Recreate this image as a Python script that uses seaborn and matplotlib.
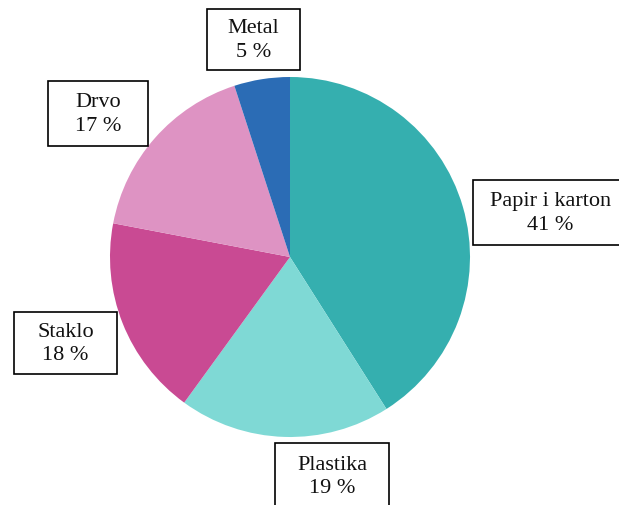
import matplotlib
matplotlib.use("Agg")
import matplotlib.pyplot as plt
from matplotlib.patches import Rectangle
import seaborn as sns

labels = ["Papir i karton", "Plastika", "Staklo", "Drvo", "Metal"]
shares = [41, 19, 18, 17, 5]
pct_text = ["41 %", "19 %", "18 %", "17 %", "5 %"]
colors = ["#35AFAF", "#7FD9D5", "#C94A93", "#DE93C3", "#2B6CB5"]

# label boxes in pixel space (left, top, right, bottom), y from top
boxes = [(473, 181, 640, 246), (275, 444, 389, 510), (14, 313, 117, 375),
         (48, 82, 148, 147), (207, 10, 300, 71)]

sns.set_style("white")
plt.rcParams["font.family"] = ["Liberation Serif", "DejaVu Serif"]

W, H = 619, 506
fig = plt.figure(figsize=(W / 100, H / 100), dpi=100)
ax = fig.add_axes([0, 0, 1, 1])

ax.pie(shares, colors=sns.color_palette(colors), startangle=90, counterclock=False,
       center=(290, H - 258), radius=180, frame=True,
       wedgeprops={"linewidth": 0})
ax.set_xlim(0, W)
ax.set_ylim(0, H)
ax.set_aspect("equal")
ax.axis("off")

for lab, pct, (l, t, r, b) in zip(labels, pct_text, boxes):
    ax.add_patch(Rectangle((l, H - b), r - l, b - t, fc="white", ec="black",
                           lw=1.2, clip_on=False))
    cx = (l + min(r, 628)) / 2
    cy = H - (t + b) / 2
    ax.text(cx, cy, f"{lab}\n{pct}", ha="center", va="center", fontsize=16,
            linespacing=1.35, color="#111111")

fig.savefig("out.png", dpi=100)
